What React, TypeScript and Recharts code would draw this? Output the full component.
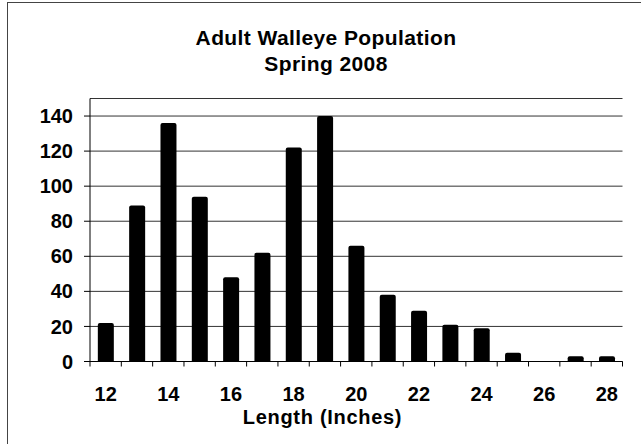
import { Bar, BarChart, CartesianGrid, XAxis, YAxis } from "recharts";

const lengths = [12, 13, 14, 15, 16, 17, 18, 19, 20, 21, 22, 23, 24, 25, 26, 27, 28];
const counts = [22, 89, 136, 94, 48, 62, 122, 140, 66, 38, 29, 21, 19, 5, 0, 3, 3];
const yTicks = [0, 20, 40, 60, 80, 100, 120, 140];
const titleLines = ["Adult Walleye Population", "Spring 2008"];
const xTitle = "Length (Inches)";

const data = lengths.map((len, i) => ({ length: len, count: counts[i] }));

const W = 641;
const H = 444;
const margin = { top: 98.5, right: 18.5, left: 0, bottom: 0 };
const yAxisWidth = 90;
const xAxisHeight = 82.5;
const band = (W - margin.right - yAxisWidth) / lengths.length;
const font = "'Liberation Sans', Arial, sans-serif";

function LengthTick(props: any) {
  const { x, y, payload, index } = props;
  const last = index === lengths.length - 1;
  return (
    <g>
      <line x1={x - band / 2} x2={x - band / 2} y1={y} y2={y + 5} stroke="#000" />
      {last && <line x1={x + band / 2} x2={x + band / 2} y1={y} y2={y + 5} stroke="#000" />}
      {payload.value % 2 === 0 && (
        <text
          x={x}
          y={y + 39.5}
          textAnchor="middle"
          fontSize={20}
          fontWeight="bold"
          fill="#000"
        >
          {payload.value}
        </text>
      )}
    </g>
  );
}

export default function App() {
  return (
    <div
      style={{
        position: "absolute",
        left: 0,
        top: 0,
        width: W,
        height: H,
        background: "#fff",
        fontFamily: font,
        overflow: "hidden",
      }}
    >
      <div
        style={{
          position: "absolute",
          left: 7,
          top: 2,
          width: W - 7,
          height: H - 2,
          borderTop: "1.5px solid #444",
          borderLeft: "1.5px solid #444",
          boxSizing: "border-box",
        }}
      />
      <div
        style={{
          position: "absolute",
          left: 0,
          top: 24.7,
          width: 652,
          textAlign: "center",
          fontSize: 21,
          lineHeight: "26px",
          fontWeight: "bold",
          letterSpacing: 0.4,
          color: "#000",
        }}
      >
        {titleLines.map((t) => (
          <div key={t}>{t}</div>
        ))}
      </div>
      <div style={{ position: "absolute", left: 0, top: 0 }}>
        <BarChart width={W} height={H} data={data} margin={margin} barCategoryGap="25%">
          <CartesianGrid vertical={false} stroke="#333" />
          <XAxis
            dataKey="length"
            height={xAxisHeight}
            interval={0}
            tickLine={false}
            tickSize={0}
            tickMargin={0}
            axisLine={{ stroke: "#000" }}
            tick={<LengthTick />}
          />
          <YAxis
            width={yAxisWidth}
            domain={[0, 150]}
            ticks={yTicks}
            interval={0}
            tickSize={6}
            tickMargin={11}
            axisLine={{ stroke: "#000" }}
            tickLine={{ stroke: "#000" }}
            tick={{ fontSize: 20, fontWeight: "bold", fill: "#000" }}
          />
          <Bar dataKey="count" fill="#000" radius={[2, 2, 0, 0]} isAnimationActive={false} />
        </BarChart>
      </div>
      <div
        style={{
          position: "absolute",
          left: 0,
          top: 404.4,
          width: 645,
          textAlign: "center",
          fontSize: 20,
          lineHeight: "26px",
          fontWeight: "bold",
          letterSpacing: 0.7,
          color: "#000",
        }}
      >
        {xTitle}
      </div>
    </div>
  );
}
